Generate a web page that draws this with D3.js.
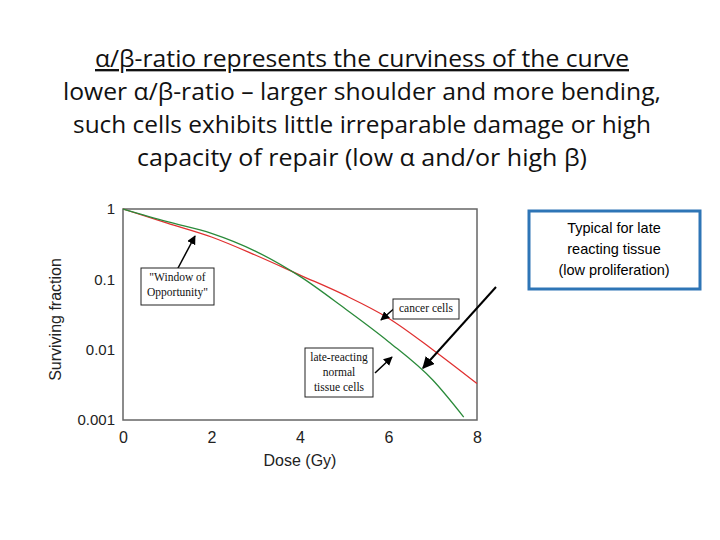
<!DOCTYPE html>
<html><head><meta charset="utf-8">
<script src="https://cdn.jsdelivr.net/npm/d3@7"></script>
<style>body{margin:0;background:#fff}</style>
</head><body>
<script>
const doses = [0, 1, 2, 3, 4, 5, 6, 7, 8];
const cancer = [1, 0.63, 0.40, 0.22, 0.115, 0.06, 0.028, 0.01, 0.0033];
const normalDoses = [0, 1, 2, 3, 4, 5, 6, 7, 7.7];
const normal = [1, 0.66, 0.45, 0.25, 0.11, 0.039, 0.013, 0.0037, 0.0011];
const xTicks = [0, 2, 4, 6, 8];
const yTicks = [1, 0.1, 0.01, 0.001];
const yTickLabels = ['1', '0.1', '0.01', '0.001'];
const titleLines = [
  'α/β-ratio represents the curviness of the curve',
  'lower α/β-ratio – larger shoulder and more bending,',
  'such cells exhibits little irreparable damage or high',
  'capacity of repair (low α and/or high β)'
];

const svg = d3.select('body').append('svg').attr('width', 720).attr('height', 540);

svg.selectAll('.title').data(titleLines).join('text')
  .attr('x', 362).attr('y', (d, i) => 67 + i * 33)
  .attr('text-anchor', 'middle')
  .attr('font-family', 'Open Sans, sans-serif').attr('font-size', 23.5)
  .attr('textLength', (d, i) => [534, 598, 578, 450][i]).attr('lengthAdjust', 'spacingAndGlyphs')
  .attr('fill', '#111')
  .attr('text-decoration', (d, i) => i === 0 ? 'underline' : null)
  .text(d => d);

const x = d3.scaleLinear().domain([0, 8]).range([123, 477]);
const y = d3.scaleLog().domain([0.001, 1]).range([420, 209]);

const g = svg.append('g');
g.append('rect').attr('x', x(0)).attr('y', y(1)).attr('width', x(8) - x(0)).attr('height', y(0.001) - y(1))
  .attr('fill', 'none').attr('stroke', '#666').attr('stroke-width', 1.5);

g.append('g').attr('transform', `translate(0,${y(0.001)})`)
  .call(d3.axisBottom(x).tickValues(xTicks).tickSize(0).tickPadding(12))
  .call(a => a.select('.domain').remove())
  .selectAll('text').attr('font-family', 'Liberation Sans, Arial').attr('font-size', 16).attr('fill', '#222');

g.append('g').attr('transform', `translate(${x(0)},0)`)
  .call(d3.axisLeft(y).tickValues(yTicks).tickFormat((d, i) => yTickLabels[i]).tickSize(0).tickPadding(8))
  .call(a => a.select('.domain').remove())
  .selectAll('text').attr('font-family', 'Liberation Sans, Arial').attr('font-size', 15).attr('fill', '#222');

g.append('text').attr('transform', `translate(61,${(y(1) + y(0.001)) / 2 + 5}) rotate(-90)`)
  .attr('text-anchor', 'middle').attr('font-family', 'Liberation Sans, Arial').attr('font-size', 16).attr('fill', '#222')
  .text('Surviving fraction');
g.append('text').attr('x', x(4)).attr('y', 466).attr('text-anchor', 'middle')
  .attr('font-family', 'Liberation Sans, Arial').attr('font-size', 16).attr('fill', '#222').text('Dose (Gy)');

const line = d3.line().curve(d3.curveMonotoneX);
g.append('path').attr('d', line(doses.map((d, i) => [x(d), y(cancer[i])])))
  .attr('fill', 'none').attr('stroke', '#e03030').attr('stroke-width', 1.3);
g.append('path').attr('d', line(normalDoses.map((d, i) => [x(d), y(normal[i])])))
  .attr('fill', 'none').attr('stroke', '#2a8a3a').attr('stroke-width', 1.3);

const defs = svg.append('defs');
defs.append('marker').attr('id', 'ah').attr('viewBox', '0 0 10 10').attr('refX', 9).attr('refY', 5)
  .attr('markerWidth', 6).attr('markerHeight', 6).attr('orient', 'auto')
  .append('path').attr('d', 'M0,0L10,5L0,10z').attr('fill', '#000');

function arrow(x1, y1, x2, y2, w) {
  g.append('line').attr('x1', x1).attr('y1', y1).attr('x2', x2).attr('y2', y2)
    .attr('stroke', '#000').attr('stroke-width', w).attr('marker-end', 'url(#ah)');
}
function box(bx, by, lines, w, h) {
  g.append('rect').attr('x', bx).attr('y', by).attr('width', w).attr('height', h)
    .attr('fill', '#fff').attr('stroke', '#222').attr('stroke-width', 1);
  g.selectAll(null).data(lines).join('text')
    .attr('x', bx + w / 2).attr('y', (d, i) => by + 13 + i * 15).attr('text-anchor', 'middle')
    .attr('font-family', 'Liberation Serif, serif').attr('font-size', 11.5).attr('fill', '#111').text(d => d);
}
arrow(177, 270, 195, 236, 1.5);
box(141, 268, ['"Window of', 'Opportunity"'], 73, 37);
arrow(397, 306, 381, 320, 1.5);
box(393, 299, ['cancer cells'], 66, 20);
arrow(375, 373, 392, 357, 1.5);
box(305, 348, ['late-reacting', 'normal', 'tissue cells'], 68, 49);

arrow(496, 287, 423, 368, 2);
svg.append('rect').attr('x', 529).attr('y', 211).attr('width', 171).attr('height', 78)
  .attr('fill', '#fff').attr('stroke', '#2e75b6').attr('stroke-width', 3);
svg.selectAll('.note').data(['Typical for late', 'reacting tissue', '(low proliferation)']).join('text')
  .attr('x', 614).attr('y', (d, i) => 233 + i * 21).attr('text-anchor', 'middle')
  .attr('font-family', 'Liberation Sans, Arial').attr('font-size', 14.5).attr('fill', '#000').text(d => d);
</script>
</body></html>
